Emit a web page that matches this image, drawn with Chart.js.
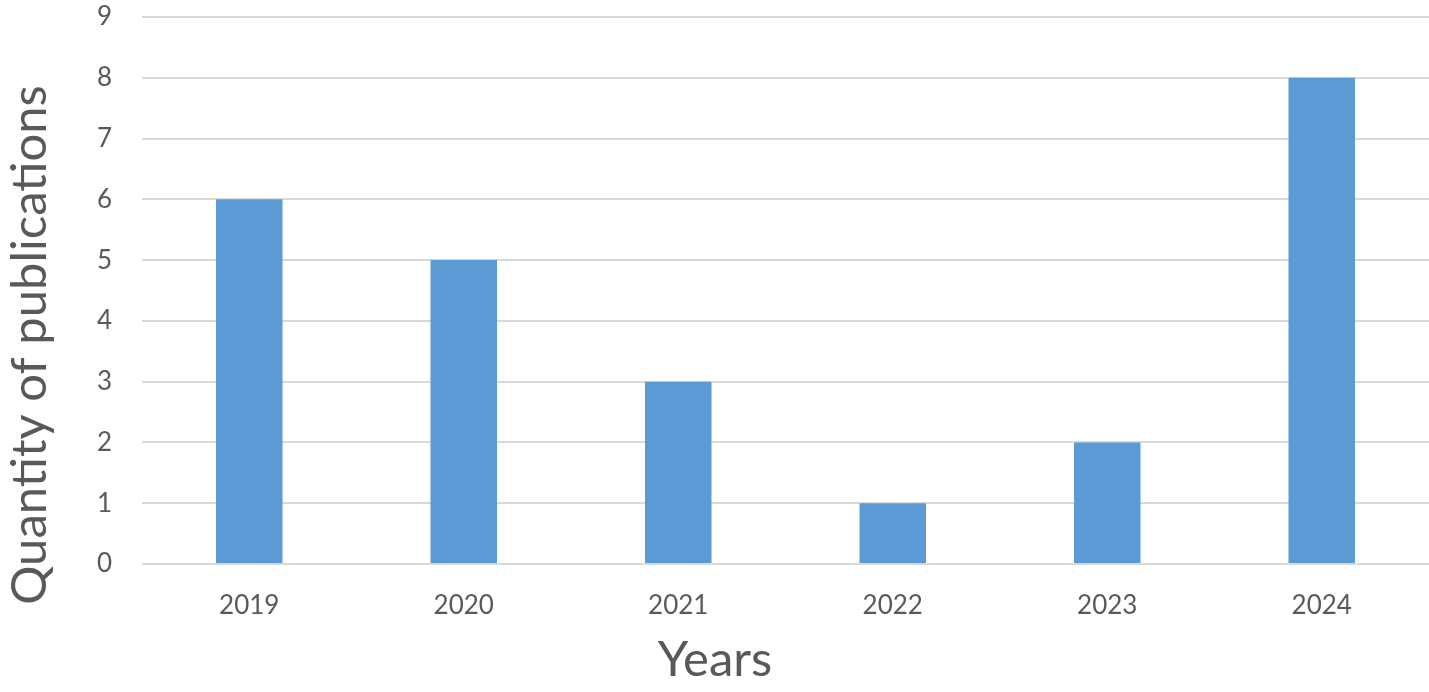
<!DOCTYPE html>
<html>
<head>
<meta charset="utf-8">
<script src="https://cdn.jsdelivr.net/npm/chart.js@4/dist/chart.umd.min.js"></script>
<style>
  html, body { margin: 0; padding: 0; background: #fff; }
  #wrap { width: 1429px; height: 692px; }
</style>
</head>
<body>
<div id="wrap"><canvas id="pubs"></canvas></div>
<script>
var years = ["2019", "2020", "2021", "2022", "2023", "2024"];
var publications = [6, 5, 3, 1, 2, 8];
var yTicks = [0, 1, 2, 3, 4, 5, 6, 7, 8, 9];

var textColor = "#595959";
var fontName = "Lato, 'Open Sans', sans-serif";

// axis titles drawn by hand: in the original they are centred on the page, not on the plot
var axisTitles = {
    id: "axisTitles",
    afterDraw: function(chart) {
        var c = chart.ctx;
        c.save();
        c.fillStyle = textColor;
        c.font = "49px " + fontName;
        c.textAlign = "center";
        c.textBaseline = "middle";
        c.fillText("Years", 715, 660);
        c.translate(30, 345);
        c.rotate(-Math.PI / 2);
        c.fillText("Quantity of publications", 0, 0);
        c.restore();
    }
};

var ctx = document.getElementById("pubs");
var chart = new Chart(ctx, {
    type: "bar",
    data: {
        labels: years,
        datasets: [{
            label: "Publications",
            data: publications,
            backgroundColor: "#5B9BD5",
            borderWidth: 0,
            categoryPercentage: 1,
            barPercentage: 0.31
        }]
    },
    options: {
        responsive: true,
        maintainAspectRatio: false,
        animation: false,
        layout: { padding: { top: 17, right: 0, left: 0, bottom: 0 } },
        plugins: {
            legend: { display: false },
            tooltip: { enabled: false }
        },
        scales: {
            x: {
                grid: { display: false },
                border: { display: false },
                ticks: { color: textColor, font: { family: fontName, size: 26 }, padding: 18 },
                afterFit: function(scale) { scale.height = 128; }
            },
            y: {
                min: 0,
                max: 9,
                afterBuildTicks: function(scale) {
                    scale.ticks = yTicks.map(function(v) { return { value: v }; });
                },
                grid: { color: "#D9D9D9", lineWidth: 2, drawTicks: true, tickLength: 30, tickColor: "rgba(0,0,0,0)" },
                border: { display: false },
                ticks: { color: textColor, font: { family: fontName, size: 26 }, padding: 0 },
                afterFit: function(scale) { scale.width = 142; }
            }
        }
    },
    plugins: [axisTitles]
});
</script>
</body>
</html>
